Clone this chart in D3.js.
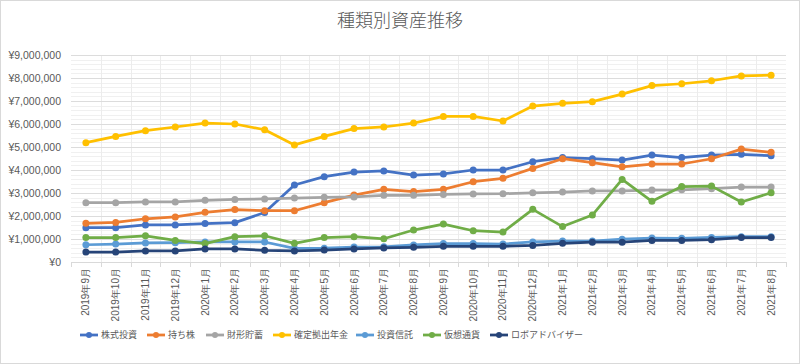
<!DOCTYPE html>
<html>
<head>
<meta charset="utf-8">
<script src="https://cdn.jsdelivr.net/npm/d3@7"></script>
<style>
  body { margin: 0; background: #fff; }
  svg { font-family: "Noto Sans CJK JP", "Noto Sans", sans-serif; }
</style>
</head>
<body>
<svg id="chart" width="800" height="364"></svg>
<script>
// months on the x axis
var months = [
  "2019年9月", "2019年10月", "2019年11月", "2019年12月",
  "2020年1月", "2020年2月", "2020年3月", "2020年4月", "2020年5月", "2020年6月",
  "2020年7月", "2020年8月", "2020年9月", "2020年10月", "2020年11月", "2020年12月",
  "2021年1月", "2021年2月", "2021年3月", "2021年4月", "2021年5月", "2021年6月",
  "2021年7月", "2021年8月"
];

var seriesNames = ["株式投資", "持ち株", "財形貯蓄", "確定拠出年金", "投資信託", "仮想通貨", "ロボアドバイザー"];

var kabushiki = [1490000, 1490000, 1610000, 1610000, 1670000, 1710000, 2150000, 3350000, 3710000, 3910000, 3960000, 3780000,
  3830000, 4000000, 4000000, 4360000, 4540000, 4490000, 4430000, 4650000, 4540000, 4650000, 4680000, 4620000];
var mochikabu = [1680000, 1720000, 1880000, 1960000, 2160000, 2280000, 2230000, 2230000, 2580000, 2910000, 3160000, 3060000,
  3160000, 3490000, 3640000, 4070000, 4490000, 4320000, 4140000, 4260000, 4260000, 4490000, 4910000, 4770000];
var zaikei = [2580000, 2580000, 2610000, 2610000, 2680000, 2720000, 2740000, 2780000, 2810000, 2830000, 2900000, 2900000,
  2940000, 2960000, 2970000, 3010000, 3040000, 3090000, 3090000, 3130000, 3140000, 3190000, 3260000, 3260000];
var kakutei = [5190000, 5460000, 5710000, 5870000, 6040000, 6000000, 5750000, 5090000, 5460000, 5800000, 5870000, 6040000,
  6330000, 6330000, 6130000, 6780000, 6900000, 6970000, 7300000, 7670000, 7750000, 7880000, 8090000, 8120000];
var toushin = [750000, 780000, 830000, 840000, 870000, 870000, 870000, 590000, 600000, 650000, 660000, 740000,
  800000, 800000, 780000, 870000, 910000, 910000, 990000, 1040000, 1030000, 1070000, 1100000, 1100000];
var kasou = [1060000, 1060000, 1140000, 940000, 800000, 1100000, 1140000, 810000, 1060000, 1100000, 1010000, 1390000,
  1650000, 1360000, 1300000, 2290000, 1540000, 2040000, 3590000, 2640000, 3280000, 3300000, 2610000, 3010000];
var roboad = [430000, 430000, 480000, 480000, 570000, 570000, 510000, 480000, 520000, 570000, 610000, 640000,
  680000, 680000, 680000, 720000, 810000, 860000, 860000, 940000, 940000, 970000, 1060000, 1060000];

var yTicks = [0, 1000000, 2000000, 3000000, 4000000, 5000000, 6000000, 7000000, 8000000, 9000000];

var colors = ["#4472C4", "#ED7D31", "#A5A5A5", "#FFC000", "#5B9BD5", "#70AD47", "#264478"];
var allValues = [kabushiki, mochikabu, zaikei, kakutei, toushin, kasou, roboad];

var series = seriesNames.map(function (name, i) {
  return { name: name, color: colors[i], values: allValues[i] };
});

var svg = d3.select("svg"),
  margin = { top: 55, right: 14, bottom: 102, left: 71 },
  width = +svg.attr("width") - margin.left - margin.right,
  height = +svg.attr("height") - margin.top - margin.bottom;

// chart border
svg.append("rect")
  .attr("x", 0.5).attr("y", 0.5)
  .attr("width", 799).attr("height", 363)
  .attr("fill", "#fff")
  .attr("stroke", "#d9d9d9");

svg.append("text")
  .attr("x", 400)
  .attr("y", 27)
  .attr("text-anchor", "middle")
  .attr("fill", "#595959")
  .style("font-size", "18px")
  .style("font-weight", 300)
  .text("種類別資産推移");

var x = d3.scaleBand().domain(months).range([0, width]),
  y = d3.scaleLinear().domain([0, 9000000]).range([height, 0]);

var g = svg.append("g")
  .attr("transform", "translate(" + margin.left + "," + margin.top + ")");

// minor gridlines
g.append("g")
  .selectAll("line")
  .data(d3.range(0, 9000001, 200000).filter(function (v) { return v % 1000000 !== 0; }))
  .enter().append("line")
  .attr("x1", 0).attr("x2", width)
  .attr("y1", function (d) { return Math.round(y(d)) + 0.5; })
  .attr("y2", function (d) { return Math.round(y(d)) + 0.5; })
  .attr("stroke", "#f0f0f0");

// vertical gridlines at category boundaries
g.append("g")
  .selectAll("line")
  .data(months.slice(1))
  .enter().append("line")
  .attr("x1", function (d) { return Math.round(x(d)) + 0.5; })
  .attr("x2", function (d) { return Math.round(x(d)) + 0.5; })
  .attr("y1", 0).attr("y2", height)
  .attr("stroke", "#ececec");

// major gridlines + y axis labels
g.append("g")
  .attr("class", "axis axis--y")
  .call(d3.axisLeft(y).tickValues(yTicks).tickSize(-width).tickPadding(10)
    .tickFormat(function (d) { return "¥" + d3.format(",")(d); }))
  .call(function (ax) {
    ax.select(".domain").remove();
    ax.selectAll(".tick line").attr("stroke", "#dcdcdc");
    ax.selectAll(".tick text")
      .attr("fill", "#595959")
      .style("font-size", "10.5px")
      .style("font-family", "Liberation Sans, Arial, sans-serif");
  });

// x axis
var xAxis = g.append("g")
  .attr("class", "axis axis--x")
  .attr("transform", "translate(0," + height + ")")
  .call(d3.axisBottom(x).tickSize(0).tickSizeOuter(0));
xAxis.select(".domain").attr("stroke", "#d9d9d9");
xAxis.selectAll(".tick text")
  .attr("transform", "rotate(-90)")
  .attr("text-anchor", "end")
  .attr("x", -6)
  .attr("y", 0)
  .attr("dy", "0.35em")
  .attr("fill", "#595959")
  .style("font-size", "10px");

// small tick marks below the axis at boundaries
g.append("g")
  .selectAll("line")
  .data(months.concat(["end"]))
  .enter().append("line")
  .attr("x1", function (d, i) { return Math.round(i * x.step()) + 0.5; })
  .attr("x2", function (d, i) { return Math.round(i * x.step()) + 0.5; })
  .attr("y1", height).attr("y2", height + 5)
  .attr("stroke", "#d9d9d9");

var line = d3.line()
  .x(function (d, i) { return x(months[i]) + x.bandwidth() / 2; })
  .y(function (d) { return y(d); });

var s = g.selectAll(".series")
  .data(series)
  .enter().append("g")
  .attr("class", "series");

s.append("path")
  .attr("d", function (d) { return line(d.values); })
  .attr("fill", "none")
  .attr("stroke", function (d) { return d.color; })
  .attr("stroke-width", 2.75)
  .attr("stroke-linejoin", "round");

s.selectAll("circle")
  .data(function (d) { return d.values.map(function (v) { return { v: v, c: d.color }; }); })
  .enter().append("circle")
  .attr("cx", function (d, i) { return x(months[i]) + x.bandwidth() / 2; })
  .attr("cy", function (d) { return y(d.v); })
  .attr("r", 3.5)
  .attr("fill", function (d) { return d.c; });

// legend
var legendX = [80, 147, 206, 273, 356, 423, 490];
var legend = svg.append("g")
  .selectAll("g")
  .data(series)
  .enter().append("g")
  .attr("transform", function (d, i) { return "translate(" + legendX[i] + ",335)"; });

legend.append("line")
  .attr("x1", 0).attr("x2", 18)
  .attr("stroke", function (d) { return d.color; })
  .attr("stroke-width", 2.75);
legend.append("circle")
  .attr("cx", 9).attr("r", 3)
  .attr("fill", function (d) { return d.color; });
legend.append("text")
  .attr("x", 21)
  .attr("dy", "0.35em")
  .attr("fill", "#595959")
  .style("font-size", "9px")
  .text(function (d) { return d.name; });
</script>
</body>
</html>
